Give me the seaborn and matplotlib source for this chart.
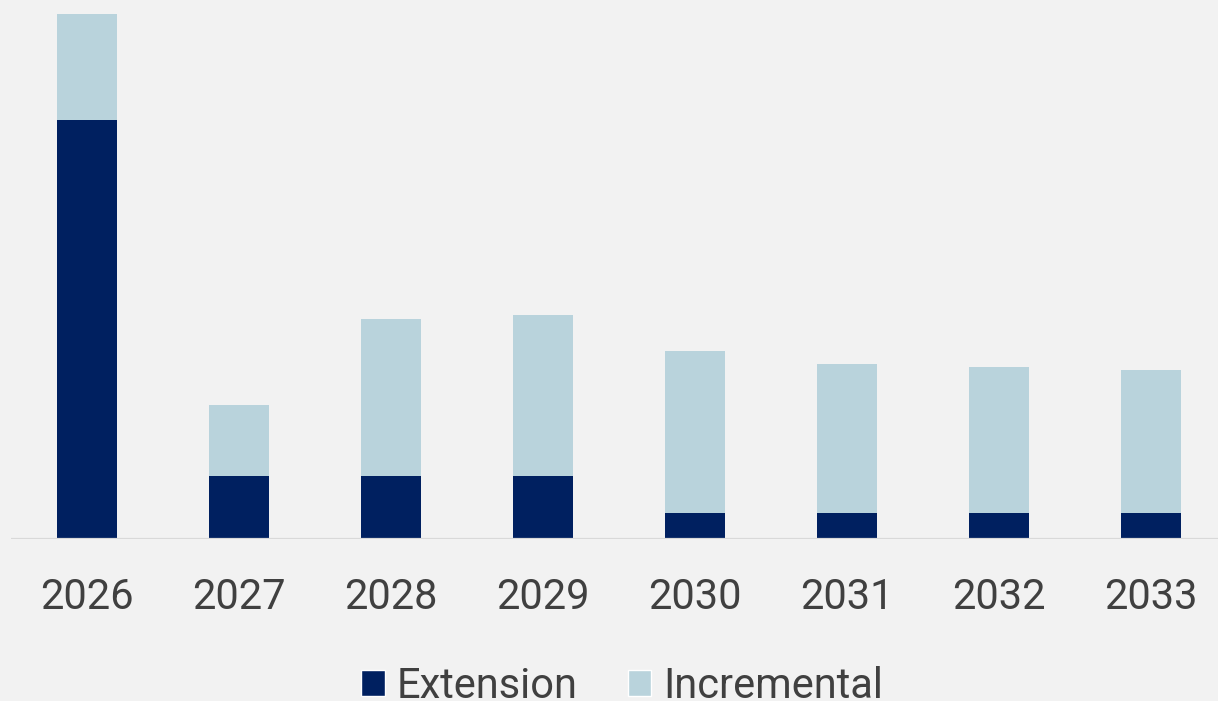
import matplotlib
matplotlib.use("Agg")
import matplotlib.pyplot as plt
import pandas as pd
import seaborn as sns
from matplotlib.patches import Patch

# Data
years = ["2026", "2027", "2028", "2029", "2030", "2031", "2032", "2033"]
extension = [41.9, 6.25, 6.25, 6.25, 2.58, 2.58, 2.58, 2.58]
incremental = [10.55, 7.1, 15.7, 16.13, 16.17, 14.84, 14.6, 14.27]

ext_color = "#002060"
inc_color = "#b9d3dc"
bg_color = "#f2f2f2"
text_color = "#404040"

sns.set_theme(style="white")
plt.rcParams["font.family"] = ["Roboto", "DejaVu Sans"]

df = pd.DataFrame({"year": years, "extension": extension, "incremental": incremental})
df["total"] = df["extension"] + df["incremental"]

W, H = 1218, 701
fig = plt.figure(figsize=(W / 100, H / 100), dpi=100, facecolor=bg_color)
ax = fig.add_axes([11 / W, 162.5 / H, 1216 / W, 538.5 / H])
ax.set_facecolor(bg_color)

# Stacked bars: totals behind, extension in front
sns.barplot(data=df, x="year", y="total", color=inc_color, width=0.4,
            linewidth=0, saturation=1, ax=ax)
sns.barplot(data=df, x="year", y="extension", color=ext_color, width=0.4,
            linewidth=0, saturation=1, ax=ax)

ax.set_xlim(-0.5, len(years) - 0.5)
ax.set_ylim(0, 53.85)
ax.axhline(0, color="#d9d9d9", linewidth=1.6, zorder=5)

for s in ax.spines.values():
    s.set_visible(False)
ax.set_yticks([])
ax.set_xlabel("")
ax.set_ylabel("")
ax.tick_params(axis="x", length=0, pad=28, labelsize=30, labelcolor=text_color)

handles = [Patch(facecolor=ext_color, label="Extension"),
           Patch(facecolor=inc_color, label="Incremental")]
fig.legend(handles=handles, loc="center", bbox_to_anchor=(622 / W, 1 - 686 / H),
           ncol=2, frameon=False, fontsize=30, labelcolor=text_color,
           handlelength=0.57, handleheight=0.57, handletextpad=0.28,
           columnspacing=1.2, borderpad=0, borderaxespad=0)

fig.savefig("out.png", dpi=100, facecolor=bg_color)
